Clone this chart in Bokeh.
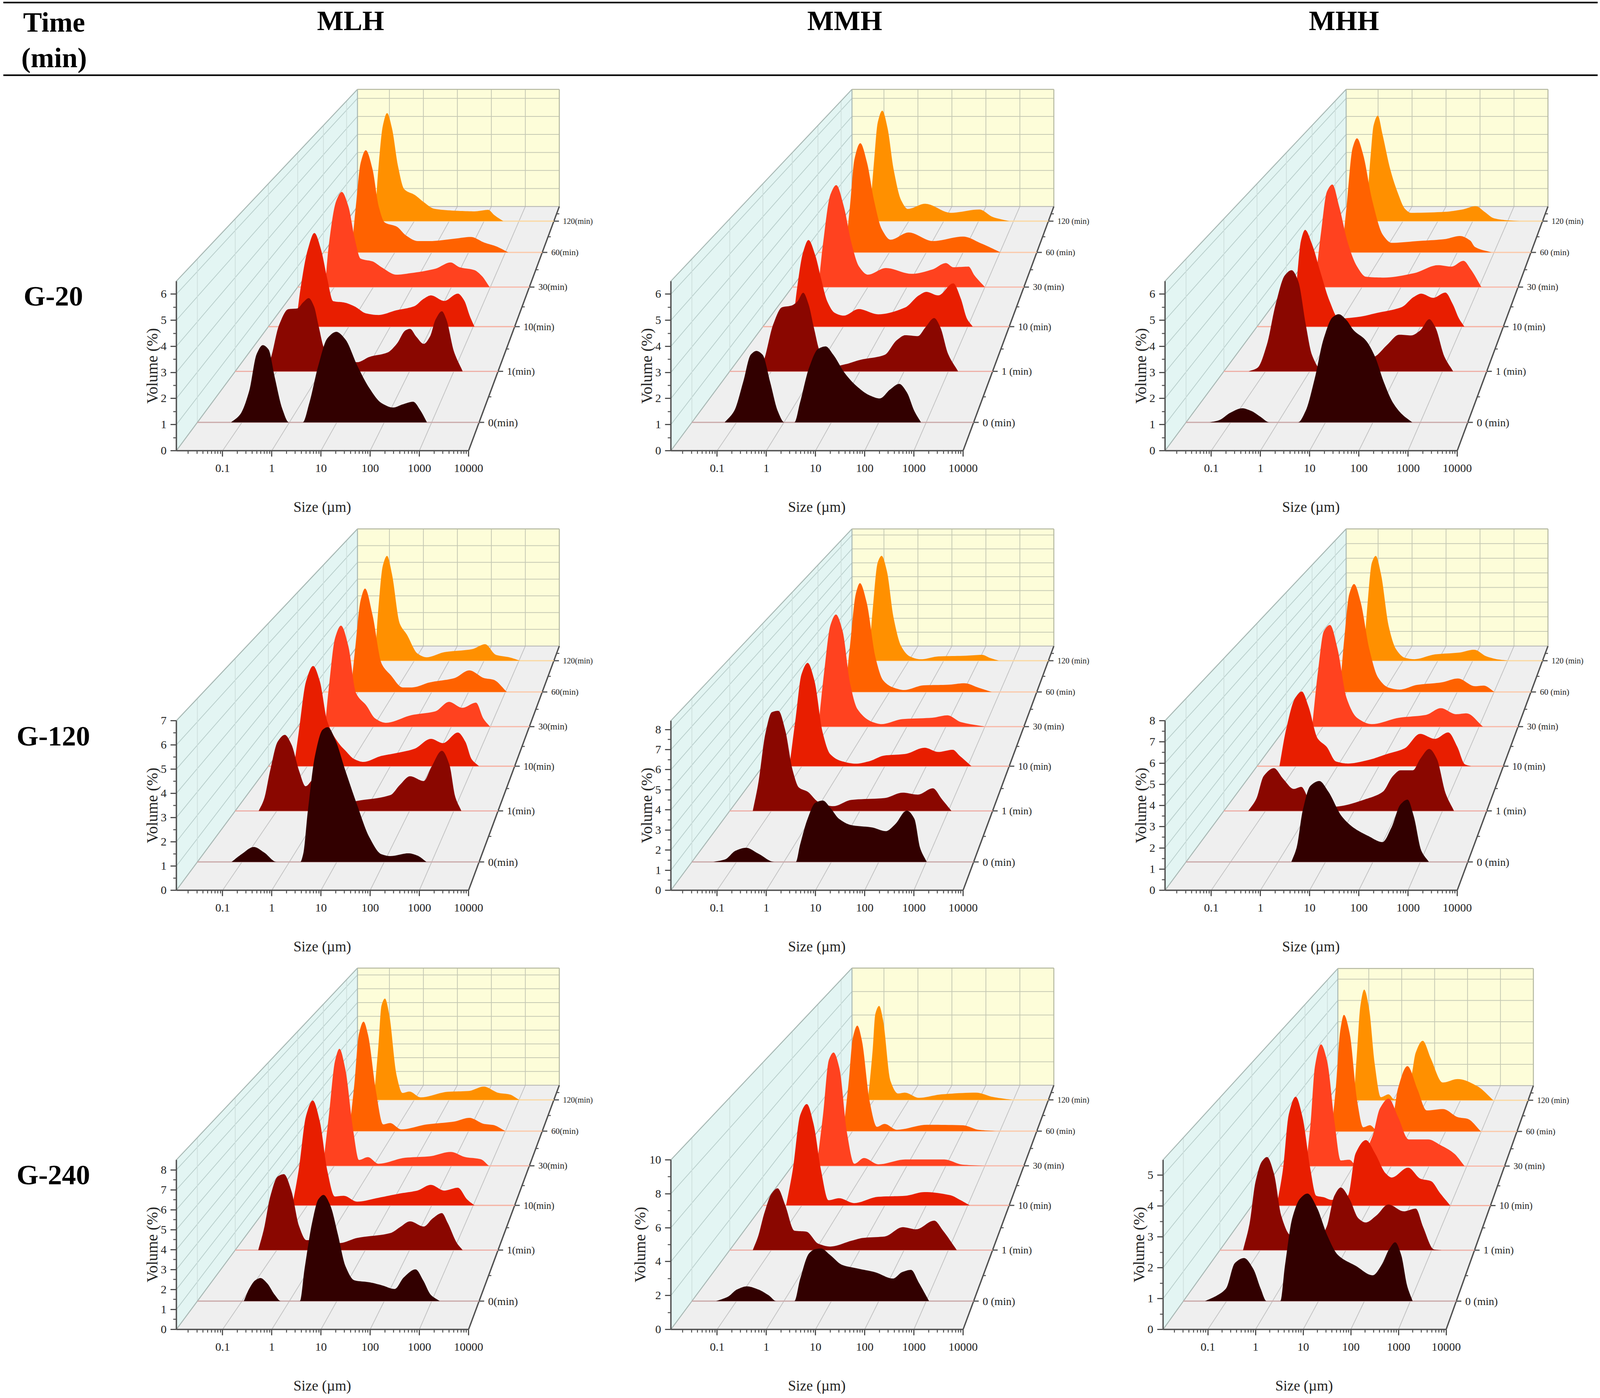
import math
import numpy as np
from bokeh.embed import file_html
from bokeh.layouts import column, row
from bokeh.models import FixedTicker, Label
from bokeh.plotting import figure
from bokeh.resources import INLINE

# every curve is (log10 size, volume %), one per time layer

# G-20 MLH
g20_mlh_t0 = [(-1.23,0),(-1.04,.31),(-.85,1.23),(-.69,2.72),(-.56,3.07),(-.44,2.9),(-.31,1.8),(-.15,.54),(-.01,0),(.28,0),(.42,.77),(.61,2.26),(.80,3.34),(.99,3.6),(1.18,3.3),(1.43,2.26),(1.69,1.35),(1.94,.77),(2.19,.59),(2.38,.71),(2.61,.82),(2.76,.48),(2.90,0)]
g20_mlh_t1 = [(-1.29,0),(-1.15,.49),(-.95,1.97),(-.74,2.65),(-.54,2.68),(-.40,2.95),(-.28,3.12),(-.16,2.77),(-.06,1.97),(.07,.99),(.35,.55),(.82,.39),(1.1,.62),(1.5,.8),(1.71,1.17),(1.91,1.75),(2.01,1.81),(2.15,1.48),(2.32,1.17),(2.46,1.48),(2.59,2.22),(2.73,2.56),(2.83,2.22),(3.0,.86),(3.2,0)]
g20_mlh_t10 = [(-1.28,0),(-1.17,1.66),(-.99,3.5),(-.83,4.26),(-.67,3.5),(-.52,2.18),(-.38,1.16),(-.12,1.1),(.13,.93),(.42,.6),(.71,.53),(1.14,.74),(1.58,.93),(1.8,1.26),(1.98,1.42),(2.3,1.17),(2.63,1.5),(2.78,1.2),(2.92,.47),(3.03,0)]
g20_mlh_t30 = [(-1.24,0),(-1.14,2.08),(-.95,4.18),(-.81,4.6),(-.64,3.9),(-.48,2.36),(-.33,1.38),(-.02,1.24),(.21,.96),(.59,.6),(.98,.68),(1.59,.89),(1.98,1.19),(2.21,.96),(2.59,.82),(2.78,.54),(2.98,0)]
g20_mlh_t60 = [(-1.18,0),(-1.06,2.36),(-.93,4.58),(-.79,5.23),(-.61,4.28),(-.44,2.36),(-.28,1.54),(.05,1.32),(.30,.87),(.62,.58),(.95,.58),(1.61,.7),(2.06,.79),(2.43,.5),(2.75,.31),(3.08,0)]
g20_mlh_t120 = [(-1.13,0),(-1.03,2.83),(-.90,5.17),(-.78,5.84),(-.64,5.02),(-.47,3.0),(-.29,1.73),(.01,1.42),(.27,1.03),(.57,.67),(1.22,.56),(1.73,.53),(2.12,.61),(2.29,.33),(2.55,0)]

# G-20 MMH
g20_mmh_t0 = [(-1.25,0),(-1.05,.45),(-.86,1.6),(-.70,2.69),(-.58,2.84),(-.45,2.69),(-.29,1.6),(-.13,.45),(.01,0),(.22,0),(.34,.79),(.53,2.17),(.72,2.92),(.88,3.02),(1.04,2.69),(1.29,1.94),(1.54,1.43),(1.80,1.08),(2.02,.95),(2.24,1.31),(2.43,1.53),(2.59,1.2),(2.75,.45),(2.89,0)]
g20_mmh_t1 = [(-1.27,0),(-1.16,.52),(-.96,1.99),(-.76,2.73),(-.55,2.8),(-.41,2.98),(-.28,3.35),(-.16,2.86),(-.04,1.87),(.10,.83),(.40,.21),(.67,.3),(1.01,.49),(1.56,.7),(1.83,1.32),(2.03,1.54),(2.31,1.5),(2.48,1.87),(2.68,2.27),(2.82,1.87),(2.99,.76),(3.22,0)]
g20_mmh_t10 = [(-1.22,0),(-1.12,1.68),(-.97,3.39),(-.84,3.94),(-.68,3.26),(-.54,2.21),(-.39,1.16),(-.21,.63),(.01,.5),(.37,.8),(.84,.56),(1.49,.87),(1.82,1.42),(2.0,1.58),(2.29,1.42),(2.65,1.97),(2.83,1.29),(2.98,.37),(3.12,0)]
g20_mmh_t30 = [(-1.27,0),(-1.15,2.11),(-.96,4.48),(-.81,4.93),(-.62,3.92),(-.42,2.11),(-.23,1.0),(0,.6),(.46,.92),(1.12,.64),(1.65,.85),(2.0,1.16),(2.19,.96),(2.58,.99),(2.73,.57),(3.0,0)]
g20_mmh_t60 = [(-1.2,0),(-1.07,2.39),(-.95,4.76),(-.79,5.59),(-.61,4.61),(-.42,2.68),(-.21,1.2),(.03,.65),(.52,1.02),(1.18,.58),(2.0,.81),(2.49,.46),(3.02,0)]
g20_mmh_t120 = [(-1.13,0),(-1.0,3.16),(-.89,5.34),(-.76,5.97),(-.61,5.03),(-.44,2.84),(-.22,1.13),(-.03,.66),(.47,.94),(1.2,.45),(2.02,.63),(2.41,.22),(2.88,0)]

# G-20 MHH
g20_mhh_t0 = [(-1.44,0),(-1.25,.08),(-1.0,.39),(-.76,.56),(-.56,.45),(-.37,.22),(-.18,0),(.42,0),(.58,.45),(.77,1.72),(.96,3.32),(1.15,4.18),(1.28,4.3),(1.44,4.07),(1.59,3.67),(1.85,3.26),(2.04,2.63),(2.23,1.6),(2.42,.79),(2.61,.33),(2.83,0)]
g20_mhh_t1 = [(-1.38,0),(-1.18,.15),(-.97,1.13),(-.77,2.86),(-.56,4.1),(-.41,4.31),(-.26,3.84),(-.09,1.99),(.05,.7),(.25,.1),(.8,.2),(1.48,.64),(1.75,1.13),(2.02,1.56),(2.29,1.53),(2.5,1.75),(2.7,2.22),(2.84,1.87),(3.04,.64),(3.24,0)]
g20_mhh_t10 = [(-1.09,0),(-.99,1.94),(-.88,3.92),(-.78,4.4),(-.62,3.78),(-.41,2.47),(-.19,1.16),(.03,.37),(.46,.43),(.97,.63),(1.55,.89),(1.84,1.35),(2.02,1.5),(2.31,1.31),(2.6,1.55),(2.78,1.02),(2.93,.37),(3.06,0)]
g20_mhh_t30 = [(-1.21,0),(-1.05,2.67),(-.9,4.62),(-.76,4.96),(-.59,3.92),(-.36,2.11),(-.13,1.0),(.1,.5),(.56,.46),(1.33,.67),(1.95,1.06),(2.29,.99),(2.6,1.27),(2.79,.85),(3.06,0)]
g20_mhh_t60 = [(-1.13,0),(-1.01,2.24),(-.84,5.35),(-.72,5.84),(-.56,5.05),(-.31,2.68),(-.02,.9),(.22,.49),(.92,.58),(1.66,.68),(2.07,.84),(2.35,.61),(2.48,.28),(2.93,0)]
g20_mhh_t120 = [(-1.06,0),(-.93,3.47),(-.84,5.19),(-.72,5.7),(-.59,4.72),(-.37,2.84),(-.16,1.59),(.06,.66),(.23,.45),(1.18,.5),(1.7,.63),(2.09,.81),(2.34,.5),(2.6,.16),(2.91,.06),(3.34,0)]

# G-120 MLH
g120_mlh_t0 = [(-1.22,0),(-1.01,.33),(-.75,.64),(-.53,.4),(-.27,0),(.23,0),(.29,.33),(.39,2.2),(.54,4.55),(.7,5.66),(.81,5.77),(.96,5.27),(1.18,3.91),(1.43,2.43),(1.68,1.08),(1.94,.33),(2.13,.25),(2.51,.37),(2.7,.27),(2.89,0)]
g120_mlh_t1 = [(-1.41,0),(-1.29,.53),(-1.15,1.86),(-.98,3.18),(-.82,3.49),(-.67,3.05),(-.5,1.86),(-.35,1.13),(-.16,1.46),(0,1.06),(.35,.27),(.82,.46),(1.57,.73),(1.78,1.19),(2.01,1.59),(2.32,1.37),(2.49,2.0),(2.73,2.76),(2.9,2.12),(3.03,.66),(3.17,0)]
g120_mlh_t10 = [(-1.32,0),(-1.21,1.63),(-1.03,4.17),(-.86,4.91),(-.7,4.17),(-.52,2.2),(-.23,1.09),(-.09,.78),(.13,.35),(.35,.21),(.78,.5),(1.14,.64),(1.58,.85),(1.98,1.34),(2.27,1.13),(2.63,1.65),(2.81,1.2),(2.96,.35),(3.14,0)]
g120_mlh_t30 = [(-1.24,0),(-1.14,2.08),(-.98,4.63),(-.83,5.26),(-.64,4.18),(-.45,1.77),(-.18,1.1),(.05,.42),(.32,.2),(.98,.6),(1.59,.8),(1.94,1.29),(2.28,.98),(2.63,1.25),(2.82,.42),(2.99,0)]
g120_mlh_t60 = [(-1.2,0),(-1.08,2.36),(-.93,5.06),(-.81,5.7),(-.61,4.27),(-.36,1.56),(-.11,.92),(.21,.25),(.46,.25),(.95,.53),(1.61,.76),(2.02,1.19),(2.43,.76),(2.67,.68),(3.04,0)]
g120_mlh_t120 = [(-1.13,0),(-1.03,3.03),(-.9,5.55),(-.78,6.1),(-.64,5.04),(-.42,2.18),(-.21,1.51),(.09,.42),(.35,.2),(.87,.5),(1.65,.67),(2.03,.96),(2.34,.34),(2.72,.2),(3.03,0)]

# G-120 MMH
g120_mmh_t0 = [(-1.49,0),(-1.24,.13),(-1.02,.58),(-.8,.73),(-.54,.43),(-.2,0),(.25,0),(.34,.88),(.5,2.23),(.66,3.05),(.82,3.17),(.97,2.82),(1.16,2.23),(1.42,1.9),(1.86,1.78),(2.15,1.59),(2.34,1.93),(2.59,2.65),(2.75,2.23),(2.87,.73),(3.01,0)]
g120_mmh_t1 = [(-1.42,0),(-1.3,1.46),(-1.13,4.34),(-.99,5.46),(-.84,5.54),(-.69,4.5),(-.52,2.26),(-.38,1.3),(-.18,1.06),(.06,.5),(.4,.26),(.81,.61),(1.56,.71),(1.97,1.01),(2.31,.9),(2.65,1.25),(2.85,.66),(3.07,0)]
g120_mmh_t10 = [(-1.3,0),(-1.15,2.85),(-1.01,5.42),(-.86,6.1),(-.7,5.08),(-.5,2.0),(-.32,.72),(-.03,.29),(.3,.15),(.62,.29),(.99,.63),(1.49,.72),(1.96,1.09),(2.29,.84),(2.64,.97),(2.8,.63),(3.09,0)]
g120_mmh_t30 = [(-1.27,0),(-1.12,3.47),(-.96,6.38),(-.82,7.04),(-.65,6.02),(-.46,2.75),(-.27,1.11),(.12,.29),(.35,.16),(.88,.47),(1.65,.56),(2.04,.71),(2.38,.29),(3.0,0)]
g120_mmh_t60 = [(-1.2,0),(-1.07,3.08),(-.91,6.55),(-.8,7.23),(-.62,5.97),(-.38,2.31),(-.17,.77),(.11,.29),(.4,.13),(.93,.44),(1.59,.48),(2.04,.58),(2.41,.29),(2.78,0)]
g120_mmh_t120 = [(-1.15,0),(-1.04,3.46),(-.89,6.91),(-.78,7.36),(-.63,6.3),(-.44,3.05),(-.22,1.02),(.03,.3),(.34,.1),(.85,.3),(1.63,.35),(2.1,.41),(2.32,.2),(2.58,0)]

# G-120 MHH
g120_mhh_t0 = [(.28,0),(.39,.69),(.52,2.52),(.68,3.72),(.87,3.96),(1.06,3.44),(1.34,2.24),(1.59,1.68),(1.91,1.26),(2.2,.97),(2.39,1.68),(2.58,2.81),(2.73,3.05),(2.86,2.24),(3.02,.55),(3.18,0)]
g120_mhh_t1 = [(-1.39,0),(-1.21,.62),(-1.04,1.83),(-.81,2.24),(-.6,1.68),(-.36,1.15),(-.19,1.26),(-.02,.62),(.25,.17),(.66,.24),(1.27,.62),(1.65,1.0),(1.88,1.83),(2.05,2.13),(2.33,2.13),(2.5,2.74),(2.7,3.25),(2.87,2.74),(3.07,.92),(3.26,0)]
g120_mhh_t10 = [(-1.4,0),(-1.24,2.05),(-1.02,3.82),(-.86,4.18),(-.7,3.35),(-.48,1.56),(-.26,1.08),(-.04,.27),(.25,.15),(.75,.35),(1.19,.68),(1.62,1.0),(1.99,1.81),(2.35,1.53),(2.67,1.89),(2.89,1.08),(3.07,.11),(3.22,0)]
g120_mhh_t30 = [(-1.28,0),(-1.13,3.28),(-.98,5.68),(-.82,6.05),(-.63,4.65),(-.4,1.73),(-.13,.53),(.25,.15),(.95,.53),(1.64,.7),(2.02,1.1),(2.41,.74),(2.68,.79),(3.1,0)]
g120_mhh_t60 = [(-1.19,0),(-1.07,3.27),(-.93,6.18),(-.8,6.8),(-.62,5.64),(-.39,2.73),(-.15,.91),(.14,.27),(.43,.15),(.92,.45),(1.57,.6),(2.02,.85),(2.48,.36),(2.72,.4),(3.01,0)]
g120_mhh_t120 = [(-1.13,0),(-1.02,3.65),(-.89,6.53),(-.78,6.97),(-.63,5.76),(-.41,2.3),(-.2,.77),(.06,.19),(.32,.1),(.92,.42),(1.61,.54),(2.04,.73),(2.39,.29),(2.69,.1),(3.03,0)]

# G-240 MLH
g240_mlh_t0 = [(-.96,0),(-.85,.63),(-.72,1.08),(-.61,1.2),(-.47,.93),(-.31,.33),(-.18,0),(.22,0),(.32,1.68),(.48,4.09),(.61,5.29),(.72,5.52),(.86,4.99),(1.02,3.49),(1.18,1.83),(1.37,1.08),(1.68,.98),(1.94,.83),(2.22,.63),(2.41,1.23),(2.66,1.65),(2.82,1.08),(2.98,.33),(3.17,0)]
g240_mlh_t1 = [(-1.42,0),(-1.29,1.19),(-1.15,2.97),(-.98,4.1),(-.84,4.23),(-.67,3.29),(-.5,1.35),(-.33,.55),(-.06,.55),(.41,.39),(.82,.68),(1.57,.95),(1.78,1.27),(2.01,1.6),(2.32,1.31),(2.52,1.76),(2.73,2.06),(2.86,1.52),(3.07,.39),(3.2,0)]
g240_mlh_t10 = [(-1.36,0),(-1.21,2.08),(-1.03,5.34),(-.87,6.24),(-.7,5.0),(-.52,2.08),(-.34,.53),(-.12,.57),(.2,.22),(.71,.45),(1.22,.7),(1.65,.88),(1.98,1.22),(2.3,.88),(2.63,1.05),(2.85,.36),(3.03,0)]
g240_mlh_t30 = [(-1.29,0),(-1.14,3.2),(-.98,6.67),(-.87,7.4),(-.72,6.12),(-.52,2.29),(-.37,.37),(-.14,.55),(.13,.13),(.82,.51),(1.44,.6),(1.98,.88),(2.36,.55),(2.75,.42),(2.96,0)]
g240_mlh_t60 = [(-1.24,0),(-1.1,3.16),(-.98,6.45),(-.85,7.33),(-.73,6.45),(-.52,2.77),(-.32,.45),(-.13,.54),(.17,.12),(.87,.45),(1.61,.64),(2.02,.89),(2.43,.48),(2.67,.41),(3.0,0)]
g240_mlh_t120 = [(-1.16,0),(-1.03,3.8),(-.94,6.67),(-.84,7.16),(-.72,6.05),(-.51,1.76),(-.34,.49),(-.14,.59),(.18,.18),(.96,.57),(1.56,.63),(1.99,.94),(2.42,.49),(2.72,.39),(3.01,0)]

# G-240 MMH
g240_mmh_t0 = [(-1.43,0),(-1.18,.27),(-.99,.71),(-.78,.9),(-.54,.71),(-.32,.35),(-.16,0),(.22,0),(.34,1.33),(.53,2.92),(.66,3.18),(.78,3.22),(.97,2.83),(1.23,2.21),(1.54,2.0),(1.92,1.77),(2.3,1.38),(2.49,1.77),(2.68,1.91),(2.84,1.15),(3.06,0)]
g240_mmh_t1 = [(-1.42,0),(-1.3,.89),(-1.16,2.41),(-.99,3.73),(-.86,4.05),(-.69,2.97),(-.48,1.27),(-.21,1.21),(.06,.42),(.33,.23),(.81,.61),(1.08,.8),(1.56,.89),(1.97,1.5),(2.27,1.36),(2.68,1.93),(2.88,1.27),(3.19,0)]
g240_mmh_t10 = [(-1.38,0),(-1.22,2.48),(-1.04,6.32),(-.88,7.09),(-.72,5.72),(-.54,2.48),(-.36,.36),(-.1,.5),(.26,.16),(.84,.6),(1.49,.67),(1.96,.93),(2.58,.71),(2.83,.36),(3.05,0)]
g240_mmh_t30 = [(-1.31,0),(-1.15,3.81),(-1.0,7.89),(-.88,8.43),(-.73,7.25),(-.54,2.52),(-.35,.15),(-.1,.58),(.27,.11),(.96,.47),(1.96,.47),(2.42,.09),(3.0,0)]
g240_mmh_t60 = [(-1.25,0),(-1.11,3.76),(-.99,7.4),(-.87,8.31),(-.75,7.18),(-.54,2.39),(-.34,.34),(-.13,.57),(.2,.11),(1.02,.5),(2.0,.46),(2.41,.11),(2.9,0)]
g240_mmh_t120 = [(-1.17,0),(-1.04,4.01),(-.96,7.14),(-.85,7.81),(-.74,6.66),(-.53,1.61),(-.31,.53),(-.11,.6),(.29,.17),(.94,.46),(1.93,.6),(2.41,.24),(2.97,0)]

# G-240 MHH
g240_mhh_t0 = [(-1.47,0),(-1.21,.19),(-1.01,.43),(-.82,1.28),(-.62,1.45),(-.42,1.09),(-.26,.43),(-.13,0),(.17,0),(.27,1.18),(.43,2.79),(.6,3.45),(.76,3.62),(.96,3.17),(1.19,2.22),(1.42,1.56),(1.82,1.18),(2.18,.87),(2.38,1.23),(2.54,1.75),(2.67,1.98),(2.8,1.56),(2.93,.52),(3.05,0)]
g240_mhh_t1 = [(-1.4,0),(-1.25,.94),(-1.11,2.46),(-.96,3.2),(-.84,3.36),(-.68,2.77),(-.51,1.25),(-.3,.54),(-.05,.44),(.37,.4),(.55,.84),(.73,1.96),(.88,2.26),(1.08,1.86),(1.29,1.15),(1.46,1.0),(1.71,1.25),(1.99,1.65),(2.35,1.4),(2.63,1.5),(2.8,.84),(3.05,.03),(3.23,0)]
g240_mhh_t10 = [(-1.32,0),(-1.17,1.35),(-1.02,3.52),(-.85,4.19),(-.68,3.41),(-.49,1.46),(-.34,.38),(-.15,.32),(.04,.22),(.45,.38),(.64,2.0),(.9,2.52),(1.13,2.0),(1.39,1.24),(1.54,1.08),(1.95,1.46),(2.26,1.03),(2.52,.94),(2.74,.49),(3.0,0)]
g240_mhh_t30 = [(-1.26,0),(-1.14,1.67),(-1.02,4.08),(-.86,4.98),(-.7,4.31),(-.5,1.78),(-.34,.23),(-.11,.26),(.06,.06),(.5,1.21),(.7,2.36),(.93,2.76),(1.18,2.01),(1.46,1.09),(1.98,1.09),(2.3,.86),(2.66,.52),(2.94,0)]
g240_mhh_t60 = [(-1.2,0),(-1.08,1.83),(-.95,4.39),(-.85,5.05),(-.69,4.26),(-.48,1.34),(-.31,.18),(-.12,.27),(.07,.06),(.53,.73),(.66,1.83),(.93,2.83),(1.21,1.83),(1.47,.91),(1.93,.97),(2.36,.61),(2.61,.55),(2.99,0)]
g240_mhh_t120 = [(-1.16,0),(-1.07,2.04),(-.96,4.36),(-.85,5.06),(-.71,4.23),(-.54,1.66),(-.36,.14),(-.13,.27),(.04,.04),(.54,1.1),(.67,2.16),(.88,2.72),(1.12,1.91),(1.47,.81),(1.92,.97),(2.5,.64),(2.97,0)]

groups = ["G-20", "G-120", "G-240"]
mixes = ["MLH", "MMH", "MHH"]
times = [0, 1, 10, 30, 60, 120]
curves = [
    [[g20_mlh_t0, g20_mlh_t1, g20_mlh_t10, g20_mlh_t30, g20_mlh_t60, g20_mlh_t120],
     [g20_mmh_t0, g20_mmh_t1, g20_mmh_t10, g20_mmh_t30, g20_mmh_t60, g20_mmh_t120],
     [g20_mhh_t0, g20_mhh_t1, g20_mhh_t10, g20_mhh_t30, g20_mhh_t60, g20_mhh_t120]],
    [[g120_mlh_t0, g120_mlh_t1, g120_mlh_t10, g120_mlh_t30, g120_mlh_t60, g120_mlh_t120],
     [g120_mmh_t0, g120_mmh_t1, g120_mmh_t10, g120_mmh_t30, g120_mmh_t60, g120_mmh_t120],
     [g120_mhh_t0, g120_mhh_t1, g120_mhh_t10, g120_mhh_t30, g120_mhh_t60, g120_mhh_t120]],
    [[g240_mlh_t0, g240_mlh_t1, g240_mlh_t10, g240_mlh_t30, g240_mlh_t60, g240_mlh_t120],
     [g240_mmh_t0, g240_mmh_t1, g240_mmh_t10, g240_mmh_t30, g240_mmh_t60, g240_mmh_t120],
     [g240_mhh_t0, g240_mhh_t1, g240_mhh_t10, g240_mhh_t30, g240_mhh_t60, g240_mhh_t120]],
]
y_tops = [[6.5, 6.5, 6.5], [7, 8.44, 8], [8.5, 10, 5.5]]
y_steps = [[1, 1, 1], [1, 1, 1], [1, 2, 1]]

fill_colors = ["#320000", "#8a0700", "#e81e00", "#ff421f", "#ff6200", "#ff9000"]
base_colors = ["#c9a8a8", "#eeb0a8", "#f6b0a0", "#f8b8a8", "#fbc8a8", "#fbd8a0"]

FONT = "Liberation Serif"
# the browser only gives 4096 px of width, so all widths are squeezed by this
XS = 4096 / 4550
LOG0 = -1.94
LOG1 = 4.0
layer_f = [.116, .325, .508, .670, .812, .940]   # how far back each layer sits
label_w = 297
label_y = [557, 558, 556]
col_widths = [1269, 1269, 1255]
col_left = [154, 151, 147]
row_heights = [1125, 1125, 1120]
row_bottom = [172, 172, 168]
AXIS_H = 434


def smooth(points, n=10):
    # shape preserving cubic through the points that were read, so the fill is not faceted
    xs = np.array([a for a, b in points], float)
    ys = np.array([b for a, b in points], float)
    h = np.diff(xs)
    d = np.diff(ys) / h
    m = np.zeros(len(xs))
    m[0], m[-1] = d[0], d[-1]
    for i in range(1, len(xs) - 1):
        if d[i - 1] * d[i] > 0:
            w1, w2 = 2 * h[i] + h[i - 1], h[i] + 2 * h[i - 1]
            m[i] = (w1 + w2) / (w1 / d[i - 1] + w2 / d[i])
    out_x, out_y = [], []
    for i in range(len(h)):
        t = np.linspace(0, 1, n, endpoint=False)
        out_x.extend(xs[i] + t * h[i])
        out_y.extend((2*t**3 - 3*t**2 + 1) * ys[i] + (t**3 - 2*t**2 + t) * h[i] * m[i]
                     + (-2*t**3 + 3*t**2) * ys[i + 1] + (t**3 - t**2) * h[i] * m[i + 1])
    out_x.append(xs[-1])
    out_y.append(ys[-1])
    return np.array(out_x), np.maximum(np.array(out_y), 0)


def make_panel(r, c):
    front_w, depth, shift, back_w = 831 * XS, 625, 515 * XS, 574 * XS
    left = col_left[c]
    vol_off = 62
    size_x = 415 * XS
    if r == 2 and c == 2:   # this one was drawn a bit narrower
        front_w, depth, shift, back_w = 805 * XS, 624, 497 * XS, 556 * XS
        left = 142
        size_x = 401 * XS
    if r == 2 and c == 1:
        vol_off = 79
    width, height = col_widths[c], row_heights[r]
    dec = front_w / (LOG1 - LOG0)
    top = y_tops[r][c]
    unit = AXIS_H / top
    below = row_bottom[r]

    def project(log, vol, f):
        s = 1 - f * (1 - back_w / front_w)
        px = f * shift + (np.asarray(log) - LOG0) * dec * s
        return 10 ** (LOG0 + px / dec), f * depth / unit + s * np.asarray(vol)

    def px_x(px):
        return 10 ** (LOG0 + px / dec)

    # the frame fills the figure so the labels outside the axes still get drawn
    p = figure(width=width, height=height, x_axis_type="log", output_backend="svg",
               x_range=(px_x(-left), px_x(width - left)), y_range=(-below / unit, (height - below) / unit),
               toolbar_location=None, min_border=0, outline_line_color=None, border_fill_color="white")
    p.grid.visible = False

    # walls and floor
    def poly(corners, color):
        xy = [project(*k) for k in corners]
        p.patch([float(a) for a, b in xy], [float(b) for a, b in xy], fill_color=color, line_color=None)

    def seg(a, b, color, lw):
        x0, y0 = project(*a)
        x1, y1 = project(*b)
        p.line([float(x0), float(x1)], [float(y0), float(y1)], line_color=color, line_width=lw)

    poly([(LOG0, 0, 0), (LOG0, top, 0), (LOG0, top, 1), (LOG0, 0, 1)], "#e3f5f3")
    poly([(LOG0, 0, 1), (LOG0, top, 1), (LOG1, top, 1), (LOG1, 0, 1)], "#fdfdd9")
    poly([(LOG0, 0, 0), (LOG1, 0, 0), (LOG1, 0, 1), (LOG0, 0, 1)], "#efefef")

    step = y_steps[r][c]
    majors = [i * step for i in range(0, int(top // step) + 1)]
    for v in majors[1:]:
        seg((LOG0, v, 0), (LOG0, v, 1), "#b9cfcc", 2)
        seg((LOG0, v, 1), (LOG1, v, 1), "#c6c9b4", 2)
    for f in layer_f:
        seg((LOG0, 0, f), (LOG0, top, f), "#cfe0de", 2)
    for lg in [-1, 0, 1, 2, 3]:
        seg((lg, 0, 0), (lg, 0, 1), "#c4c4c4", 2)
        seg((lg, 0, 1), (lg, top, 1), "#c6c9b4", 2)
    seg((LOG0, top, 0), (LOG0, top, 1), "#a8b8b4", 2.5)
    seg((LOG0, 0, 0), (LOG0, 0, 1), "#a8b8b4", 2.5)
    seg((LOG0, 0, 1), (LOG0, top, 1), "#a8b8b4", 2.5)
    seg((LOG0, top, 1), (LOG1, top, 1), "#b4b8a0", 2.5)
    seg((LOG1, top, 1), (LOG1, 0, 1), "#b4b8a0", 2.5)
    seg((LOG0, 0, 1), (LOG1, 0, 1), "#b0b0b0", 2)
    seg((LOG1, 0, 0), (LOG1, 0, 1), "#505050", 3.5)

    # time axis ticks, half way ticks are the short ones
    stops = [0] + layer_f + [1]
    for f0, f1 in zip(stops[:-1], stops[1:]):
        if f0 == 0:
            continue
        fm = (f0 + f1) / 2
        s = 1 - fm * (1 - back_w / front_w)
        px = fm * shift + front_w * s
        y = fm * depth / unit
        p.line([px_x(px), px_x(px + 7)], [y, y], line_color="#505050", line_width=2.5)

    # layers, back to front
    for k in reversed(range(len(times))):
        f = layer_f[k]
        s = 1 - f * (1 - back_w / front_w)
        lx, vy = smooth(curves[r][c][k])
        x, y = project(lx, vy, f)
        x0, y0 = project(LOG0, 0, f)
        x1, y1 = project(LOG1, 0, f)
        px = f * shift + front_w * s
        p.line([float(x0), float(x1)], [float(y0), float(y1)], line_color=base_colors[k], line_width=3)
        p.line([px_x(px), px_x(px + 13)], [float(y1), float(y1)], line_color="#505050", line_width=3)
        p.patch(x, y, fill_color=fill_colors[k], line_color=None)
        txt = f"{times[k]}(min)" if c == 0 else f"{times[k]} (min)"
        p.add_layout(Label(x=px_x(px + 23), y=float(y1), text=txt, text_font=FONT,
                           text_font_size=f"{29 * s:.1f}px", text_baseline="middle",
                           text_color="#222222"))

    ax = p.xaxis[0]
    ax.ticker = FixedTicker(ticks=[.1, 1, 10, 100, 1000, 10000],
                            minor_ticks=[m * 10.0 ** e for e in range(-2, 4) for m in range(2, 10)
                                         if m * 10.0 ** e > 10 ** LOG0])
    ax.major_label_overrides = {.1: "0.1", 1: "1", 10: "10", 100: "100", 1000: "1000", 10000: "10000"}
    ax.bounds = (px_x(0), 10000)
    ax.fixed_location = 0
    ay = p.yaxis[0]
    ay.ticker = FixedTicker(ticks=majors, minor_ticks=[v + step / 2 for v in majors if v + step / 2 < top])
    ay.bounds = (0, top)
    ay.fixed_location = px_x(0)
    for a in (ax, ay):
        a.axis_line_color = "#505050"
        a.axis_line_width = 3.5
        a.major_tick_line_color = "#505050"
        a.major_tick_line_width = 3
        a.minor_tick_line_color = "#505050"
        a.minor_tick_line_width = 2.5
        a.major_tick_in = 0
        a.major_tick_out = 15
        a.minor_tick_in = 0
        a.minor_tick_out = 8
        a.major_label_text_font = FONT
        a.major_label_text_font_size = "30px"
        a.major_label_text_color = "#222222"
    ax.major_label_standoff = 20
    ay.major_label_standoff = 10

    p.add_layout(Label(x=px_x(-vol_off), y=AXIS_H / 2 / unit, text="Volume (%)", angle=math.pi / 2,
                       text_font=FONT, text_font_size="40px", text_align="center",
                       text_baseline="middle", text_color="#222222"))
    p.add_layout(Label(x=px_x(size_x), y=-144 / unit, text="Size (\u00b5m)", text_font=FONT,
                       text_font_size="37px", text_align="center", text_baseline="middle",
                       text_color="#222222"))
    return p


def make_side(r):
    height = row_heights[r]
    s = figure(width=label_w, height=height, x_range=(0, label_w), y_range=(height, 0), x_axis_type=None,
               y_axis_type=None, output_backend="svg", toolbar_location=None, min_border=0,
               outline_line_color=None)
    s.grid.visible = False
    s.add_layout(Label(x=136, y=label_y[r], text=groups[r], text_font=FONT, text_font_size="72px",
                       text_font_style="bold", text_align="center", text_baseline="middle",
                       text_color="black"))
    return s


# header band with the two rules
FULL_W = label_w + sum(col_widths)
head = figure(width=FULL_W, height=200, x_range=(0, FULL_W), y_range=(200, 0), x_axis_type=None,
              y_axis_type=None, output_backend="svg", toolbar_location=None, min_border=0,
              outline_line_color=None)
head.grid.visible = False
head.line([8, FULL_W], [6, 6], line_color="black", line_width=4)
head.line([8, FULL_W], [192, 192], line_color="black", line_width=4)
for txt, cx, cy in [("Time", 138, 56), ("(min)", 138, 147), (mixes[0], 897, 52),
                    (mixes[1], 2162, 52), (mixes[2], 3440, 52)]:
    head.add_layout(Label(x=cx, y=cy, text=txt, text_font=FONT, text_font_size="72px",
                          text_font_style="bold", text_align="center",
                          text_baseline="middle", text_color="black"))

foot = figure(width=FULL_W, height=5, x_range=(0, 1), y_range=(0, 1), x_axis_type=None,
              y_axis_type=None, output_backend="svg", toolbar_location=None, min_border=0,
              outline_line_color=None, background_fill_color="black")
foot.grid.visible = False

rows = [row([make_side(r)] + [make_panel(r, c) for c in range(3)], spacing=0) for r in range(3)]
page = column([head] + rows + [foot], spacing=0)
open("out.html", "w").write(file_html(page, INLINE))
